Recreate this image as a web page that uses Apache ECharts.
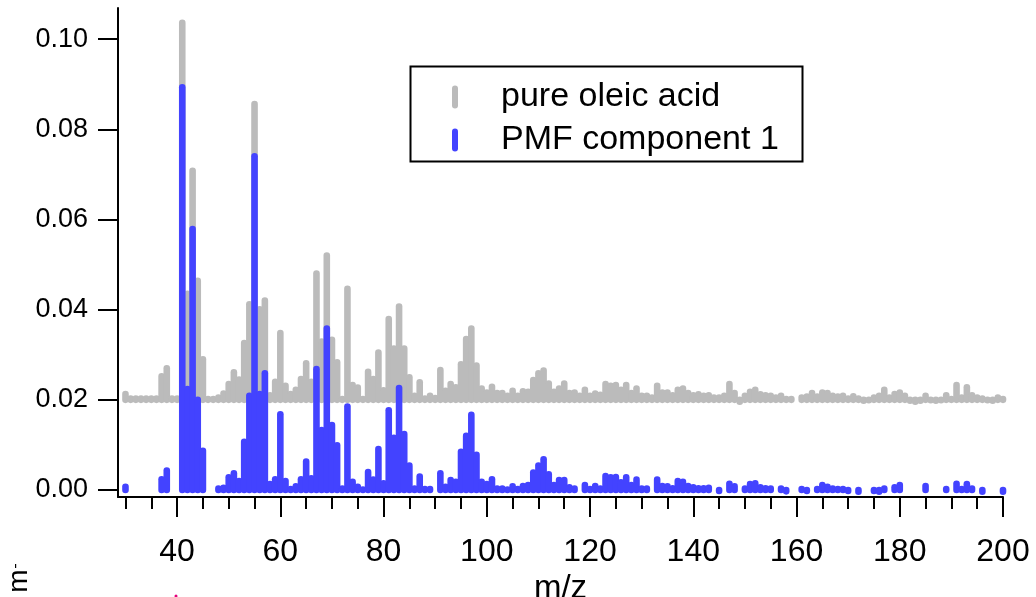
<!DOCTYPE html>
<html>
<head>
<meta charset="utf-8">
<script src="https://cdn.jsdelivr.net/npm/echarts@6/dist/echarts.min.js"></script>
<style>
html,body{margin:0;padding:0;background:#fff;}
#chart{width:1036px;height:597px;}
</style>
</head>
<body>
<div id="chart"></div>
<script>
// m/z categories 30..200
const MZ_FIRST = 30;
const MZ = [];
for (let m = MZ_FIRST; m <= 200; m++) MZ.push(m);

// pure oleic acid spectrum (drawn offset by OLEIC_OFFSET)
const OLEIC_OFFSET = 0.02;
const OLEIC = [
 0.0013,0.0003,0.0003,0.0003,0.0003,0.0003,0.0003,0.0052,0.0070,0.0003, // 30-39
 0.0003,0.0836,0.0235,0.0508,0.0264,0.0090,0.0002,0.0002,0.0005,0.0014, // 40-49
 0.0035,0.0061,0.0045,0.0126,0.0212,0.0656,0.0201,0.0220,0.0010,0.0040, // 50-59
 0.0148,0.0031,0.0013,0.0022,0.0046,0.0081,0.0040,0.0280,0.0129,0.0320, // 60-69
 0.0133,0.0083,0.0002,0.0246,0.0033,0.0027,0.0002,0.0062,0.0046,0.0105, // 70-79
 0.0021,0.0179,0.0114,0.0207,0.0114,0.0050,0.0009,0.0039,0.0003,0.0009, // 80-89
 0.0004,0.0066,0.0020,0.0035,0.0028,0.0079,0.0135,0.0158,0.0076,0.0025, // 90-99
 0.0016,0.0029,0.0015,0.0015,0.0009,0.0020,0.0009,0.0019,0.0018,0.0044, // 100-109
 0.0059,0.0065,0.0036,0.0018,0.0025,0.0036,0.0015,0.0016,0.0009,0.0022, // 110-119
 0.0009,0.0014,0.0011,0.0035,0.0031,0.0033,0.0022,0.0033,0.0015,0.0025, // 120-129
 0.0009,0.0009,0.0005,0.0031,0.0016,0.0016,0.0010,0.0022,0.0025,0.0015, // 130-139
 0.0010,0.0012,0.0009,0.0010,0.0005,0.0005,0.0009,0.0035,0.0015,-0.0004, // 140-149
 0.0009,0.0018,0.0022,0.0012,0.0010,0.0009,0.0005,0.0009,0.0002,0.0002, // 150-159
 0.0000,0.0005,0.0007,0.0015,0.0007,0.0016,0.0015,0.0009,0.0007,0.0009, // 160-169
 0.0003,0.0008,0.0003,-0.0002,-0.0001,0.0005,0.0009,0.0022,0.0005,0.0013, // 170-179
 0.0016,0.0009,-0.0002,-0.0004,-0.0002,0.0009,-0.0001,-0.0002,-0.0001,0.0010, // 180-189
 0.0002,0.0033,0.0005,0.0028,0.0010,0.0005,0.0003,-0.0001,-0.0002,0.0005, // 190-199
 0.0002 // 200
];

// PMF component 1 (null = no value)
const PMF = [
 0.0007,null,null,null,null,null,null,0.0024,0.0043,null,               // 30-39
 null,0.0893,0.0224,0.0579,0.0200,0.0087,null,null,0.0003,0.0005,       // 40-49
 0.0028,0.0037,0.0020,0.0107,0.0209,0.0740,0.0213,0.0259,0.0013,0.0024, // 50-59
 0.0168,0.0020,0.0002,0.0008,0.0024,0.0063,0.0026,0.0268,0.0133,0.0358, // 60-69
 0.0144,0.0099,0.0003,0.0185,0.0018,0.0007,0.0001,0.0040,0.0023,0.0091, // 70-79
 0.0015,0.0177,0.0116,0.0226,0.0124,0.0054,0.0003,0.0030,0.0002,0.0002, // 80-89
 null,0.0037,0.0007,0.0022,0.0018,0.0085,0.0120,0.0167,0.0078,0.0018,   // 90-99
 0.0013,0.0024,0.0003,0.0003,0.0001,0.0008,0.0002,0.0009,0.0011,0.0039, // 100-109
 0.0054,0.0068,0.0035,0.0011,0.0022,0.0022,0.0006,0.0003,0.0000,0.0011, // 110-119
 0.0002,0.0009,0.0003,0.0031,0.0028,0.0029,0.0017,0.0028,0.0011,0.0023, // 120-129
 0.0003,0.0003,0.0000,0.0023,0.0009,0.0008,0.0004,0.0020,0.0018,0.0009, // 130-139
 0.0006,0.0004,0.0004,0.0005,0.0000,-0.0002,null,0.0014,0.0008,null,    // 140-149
 0.0003,0.0013,0.0015,0.0006,0.0004,0.0003,null,0.0003,-0.0003,null,    // 150-159
 null,0.0002,-0.0002,0.0000,0.0002,0.0011,0.0007,0.0003,0.0002,0.0002,  // 160-169
 -0.0002,0.0000,-0.0004,null,null,-0.0002,-0.0004,0.0003,0.0000,0.0006, // 170-179
 0.0011,0.0000,null,null,null,0.0009,null,null,null,0.0002,             // 180-189
 null,0.0014,0.0002,0.0013,0.0003,0.0000,-0.0004,null,null,0.0000,      // 190-199
 -0.0004 // 200
];

// axis ticks
const X_LABELS = [40, 60, 80, 100, 120, 140, 160, 180, 200];
const X_MINOR = [];
for (let t = 30; t <= 200; t += 5) if (X_LABELS.indexOf(t) < 0) X_MINOR.push(t);
const Y_LABELS = [0, 0.02, 0.04, 0.06, 0.08, 0.10];

const X_MIN = 28.55, X_MAX = 200;
const Y_MIN = -0.00155, Y_MAX = 0.1069;

const GRAY = '#bbbbbb';
const BLUE = '#4343ff';
const FONT = "'Liberation Sans', Arial, sans-serif";
const STICK_ICON = 'path://M3,0 A3,3 0 0 1 6,3 L6,20 A3,3 0 0 1 0,20 L0,3 A3,3 0 0 1 3,0 Z';

function pairs(vals) {
  const out = [];
  for (let i = 0; i < MZ.length; i++) {
    if (vals[i] !== null && vals[i] !== undefined) out.push([MZ[i], vals[i]]);
  }
  return out;
}

function stickRenderer(base, color) {
  return function (params, api) {
    const x = api.value(0), v = api.value(1);
    const p0 = api.coord([x, base]);
    const p1 = api.coord([x, base + v]);
    return {
      type: 'line',
      shape: { x1: p0[0], y1: p0[1], x2: p1[0], y2: p1[1] },
      style: { stroke: color, fill: null, lineWidth: 6.6, lineCap: 'round' }
    };
  };
}

const chart = echarts.init(document.getElementById('chart'), null, { renderer: 'canvas' });

chart.setOption({
  animation: false,
  backgroundColor: '#ffffff',
  grid: { left: 118, right: 33, top: 8, bottom: 100, outerBoundsMode: 'none', containLabel: false },
  xAxis: [
    {
      type: 'value', min: X_MIN, max: X_MAX,
      name: 'm/z', nameLocation: 'middle', nameGap: 63,
      nameTextStyle: { fontSize: 33, color: '#000', fontFamily: FONT },
      axisLine: { show: true, onZero: false, lineStyle: { color: '#000', width: 2 } },
      axisTick: { show: true, length: 20, customValues: X_LABELS, lineStyle: { color: '#000', width: 2 } },
      axisLabel: { show: true, customValues: X_LABELS, margin: 39, fontSize: 32, color: '#000', fontFamily: FONT },
      splitLine: { show: false }
    },
    {
      type: 'value', min: X_MIN, max: X_MAX, position: 'bottom', gridIndex: 0,
      axisLine: { show: false, onZero: false },
      axisTick: { show: true, length: 12, customValues: X_MINOR, lineStyle: { color: '#000', width: 2 } },
      axisLabel: { show: false },
      splitLine: { show: false }
    }
  ],
  yAxis: {
    type: 'value', min: Y_MIN, max: Y_MAX,
    axisLine: { show: true, onZero: false, lineStyle: { color: '#000', width: 2 } },
    axisTick: { show: true, length: 20, customValues: Y_LABELS, lineStyle: { color: '#000', width: 2 } },
    axisLabel: {
      show: true, customValues: Y_LABELS, margin: 30, fontSize: 27, color: '#000', fontFamily: FONT,
      formatter: function (v) { return Number(v).toFixed(2); }
    },
    splitLine: { show: false }
  },
  legend: {
    orient: 'vertical', left: 452, top: 80, padding: 0,
    itemWidth: 6, itemHeight: 23, itemGap: 9,
    selectedMode: false,
    textStyle: { fontSize: 34, color: '#000', fontFamily: FONT, padding: [0, 0, 0, 38] },
    data: [
      { name: 'pure oleic acid', icon: STICK_ICON },
      { name: 'PMF component 1', icon: STICK_ICON }
    ]
  },
  series: [
    {
      name: 'pure oleic acid', type: 'custom', silent: true,
      itemStyle: { color: GRAY },
      encode: { x: 0, y: 1 },
      data: pairs(OLEIC),
      renderItem: stickRenderer(OLEIC_OFFSET, GRAY)
    },
    {
      name: 'PMF component 1', type: 'custom', silent: true,
      itemStyle: { color: BLUE },
      encode: { x: 0, y: 1 },
      data: pairs(PMF),
      renderItem: stickRenderer(0, BLUE)
    }
  ],
  graphic: [
    { type: 'rect', shape: { x: 410.5, y: 66.5, width: 392, height: 95 },
      style: { fill: null, stroke: '#000', lineWidth: 2 }, silent: true },
    { type: 'text', x: 19, y: 581, rotation: Math.PI / 2,
      style: { text: 'm', font: '28px ' + FONT, fill: '#000', align: 'center', verticalAlign: 'middle' }, silent: true },
    { type: 'rect', shape: { x: 15, y: 564, width: 1.2, height: 4 }, style: { fill: '#000' }, silent: true },
    { type: 'circle', shape: { cx: 176, cy: 596, r: 1.5 }, style: { fill: '#e4007c' }, silent: true }
  ]
});
</script>
</body>
</html>
